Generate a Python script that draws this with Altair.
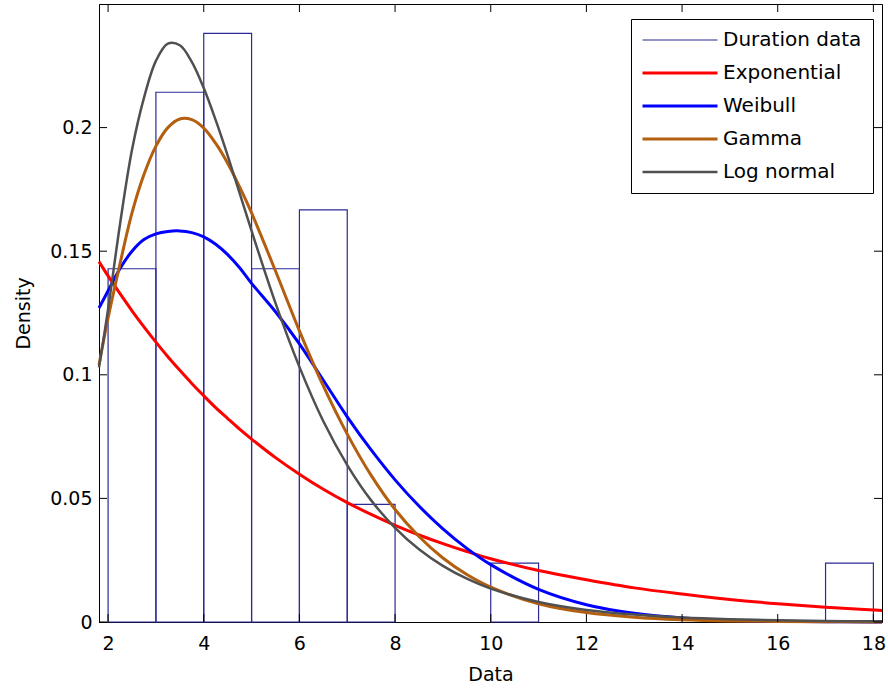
import altair as alt
import pandas as pd

# Histogram (bin edges and density heights)
bin_start = [2, 3, 4, 5, 6, 7, 10, 17]
bin_end = [3, 4, 5, 6, 7, 8, 11, 18]
bin_density = [0.1429, 0.2143, 0.2381, 0.1429, 0.1667, 0.0476, 0.0238, 0.0238]

# Fitted density curves
x_grid = [1.81, 2.0, 2.25, 2.5, 2.75, 3.0, 3.25, 3.5, 3.75, 4.0, 4.25, 4.5, 4.75, 5.0,
          5.5, 6.0, 6.5, 7.0, 7.5, 8.0, 8.5, 9.0, 9.5, 10.0, 11.0, 12.0, 13.0, 14.0,
          15.0, 16.0, 17.0, 18.0, 18.18]
exponential = [0.1458, 0.1400, 0.1328, 0.1259, 0.1194, 0.1132, 0.1073, 0.1018, 0.0965,
               0.0915, 0.0867, 0.0823, 0.0780, 0.0740, 0.0665, 0.0598, 0.0537, 0.0483,
               0.0435, 0.0391, 0.0352, 0.0317, 0.0285, 0.0256, 0.0208, 0.0171, 0.0138,
               0.0113, 0.0091, 0.0074, 0.0060, 0.0049, 0.0047]
weibull = [0.1270, 0.1340, 0.1430, 0.1500, 0.1547, 0.1570, 0.1580, 0.1582, 0.1575,
           0.1558, 0.1528, 0.1486, 0.1433, 0.1370, 0.1255, 0.1125, 0.0978, 0.0830,
           0.0696, 0.0575, 0.0469, 0.0377, 0.0298, 0.0232, 0.0132, 0.0070, 0.0035,
           0.0016, 0.0007, 0.0003, 0.0001, 0.00004, 0.00003]
gamma = [0.1040, 0.1230, 0.1450, 0.1655, 0.1810, 0.1925, 0.2000, 0.2035, 0.2032,
         0.1998, 0.1936, 0.1856, 0.1760, 0.1655, 0.1420, 0.1178, 0.0955, 0.0760,
         0.0593, 0.0455, 0.0346, 0.0259, 0.0192, 0.0141, 0.0074, 0.0038, 0.0019,
         0.0009, 0.0004, 0.0002, 0.0001, 0.00004, 0.00003]
lognormal = [0.1030, 0.1265, 0.1610, 0.1910, 0.2120, 0.2270, 0.2340, 0.2333, 0.2266,
             0.2160, 0.2030, 0.1887, 0.1735, 0.1582, 0.1290, 0.1032, 0.0812, 0.0635,
             0.0492, 0.0381, 0.0294, 0.0227, 0.0175, 0.0135, 0.0081, 0.0049, 0.0030,
             0.0018, 0.0011, 0.0007, 0.0004, 0.0003, 0.0003]

series_names = ["Duration data", "Exponential", "Weibull", "Gamma", "Log normal"]
series_colors = ["#2c2a96", "#ff0000", "#0000ff", "#b35f0f", "#505050"]
series_widths = [1.2, 3, 3, 3, 2.5]

x_ticks = [2, 4, 6, 8, 10, 12, 14, 16, 18]
y_ticks = [0, 0.05, 0.1, 0.15, 0.2]

FONT = "DejaVu Sans"
W, H = 783, 618

bars_df = pd.DataFrame({"start": bin_start, "end": bin_end, "density": bin_density,
                        "series": "Duration data"})
curve_rows = []
for name, vals in [("Exponential", exponential), ("Weibull", weibull),
                   ("Gamma", gamma), ("Log normal", lognormal)]:
    for xv, yv in zip(x_grid, vals):
        curve_rows.append({"x": xv, "density": yv, "series": name})
curves_df = pd.DataFrame(curve_rows)
xt_df = pd.DataFrame({"t": x_ticks})
yt_df = pd.DataFrame({"t": y_ticks})

xscale = alt.Scale(domain=[1.81, 18.18], nice=False, zero=False)
yscale = alt.Scale(domain=[0, 0.25], nice=False, zero=False)

xaxis = alt.Axis(values=x_ticks, format="d", title="Data", ticks=False, tickSize=0,
                 labelPadding=12, grid=False, labelFlush=False, labelOverlap=False,
                 titleY=58, titleBaseline="alphabetic")
yaxis = alt.Axis(values=y_ticks, format="~g", title="Density", ticks=False, tickSize=0,
                 labelPadding=7, grid=False, labelFlush=False, labelOverlap=False,
                 titleX=-70, titleY=H / 2, titleAlign="center", titleAngle=270,
                 titleBaseline="alphabetic")

legend = alt.Legend(title=None, orient="none", legendX=532, legendY=15,
                    symbolType="M-5,0H5", symbolSize=225, symbolOffset=28,
                    labelOffset=33, labelFontSize=20, labelFont=FONT,
                    labelColor="black", padding=11, rowPadding=13, clipHeight=20,
                    strokeColor="black", fillColor="white", labelLimit=400)

stroke_enc = alt.Stroke("series:N", scale=alt.Scale(domain=series_names, range=series_colors),
                        legend=legend)
sw_enc = alt.StrokeWidth("series:N",
                         scale=alt.Scale(type="ordinal", domain=series_names,
                                         range=series_widths),
                         legend=legend)

bars = alt.Chart(bars_df).mark_rect(filled=False).encode(
    x=alt.X("start:Q", scale=xscale, axis=xaxis),
    x2="end:Q",
    y=alt.Y("density:Q", scale=yscale, axis=yaxis),
    y2=alt.datum(0),
    stroke=stroke_enc,
    strokeWidth=sw_enc,
)

lines = alt.Chart(curves_df).mark_line(interpolate="catmull-rom").encode(
    x=alt.X("x:Q", scale=xscale, axis=xaxis),
    y=alt.Y("density:Q", scale=yscale, axis=yaxis),
    stroke=stroke_enc,
    strokeWidth=sw_enc,
)

xt_bottom = alt.Chart(xt_df).mark_rule(color="black", strokeWidth=1).encode(
    x=alt.X("t:Q", scale=xscale, axis=xaxis), y=alt.value(H), y2=alt.value(H - 8))
xt_top = alt.Chart(xt_df).mark_rule(color="black", strokeWidth=1).encode(
    x=alt.X("t:Q", scale=xscale, axis=xaxis), y=alt.value(0), y2=alt.value(8))
yt_left = alt.Chart(yt_df).mark_rule(color="black", strokeWidth=1).encode(
    y=alt.Y("t:Q", scale=yscale, axis=yaxis), x=alt.value(0), x2=alt.value(8))
yt_right = alt.Chart(yt_df).mark_rule(color="black", strokeWidth=1).encode(
    y=alt.Y("t:Q", scale=yscale, axis=yaxis), x=alt.value(W), x2=alt.value(W - 8))

chart = alt.layer(bars, lines, xt_bottom, xt_top, yt_left, yt_right).properties(
    width=W, height=H,
    autosize=alt.AutoSizeParams(type="none"),
    padding={"left": 99, "top": 4, "right": 6, "bottom": 68},
    background="white",
).configure_view(
    stroke="black", strokeWidth=1
).configure_axis(
    domainColor="black", domainWidth=1, labelColor="black", titleColor="black",
    labelFont=FONT, titleFont=FONT, labelFontSize=19, titleFontSize=19,
    titleFontWeight="normal"
)

chart.save("out.html", embed_options={"renderer": "svg", "actions": False})
